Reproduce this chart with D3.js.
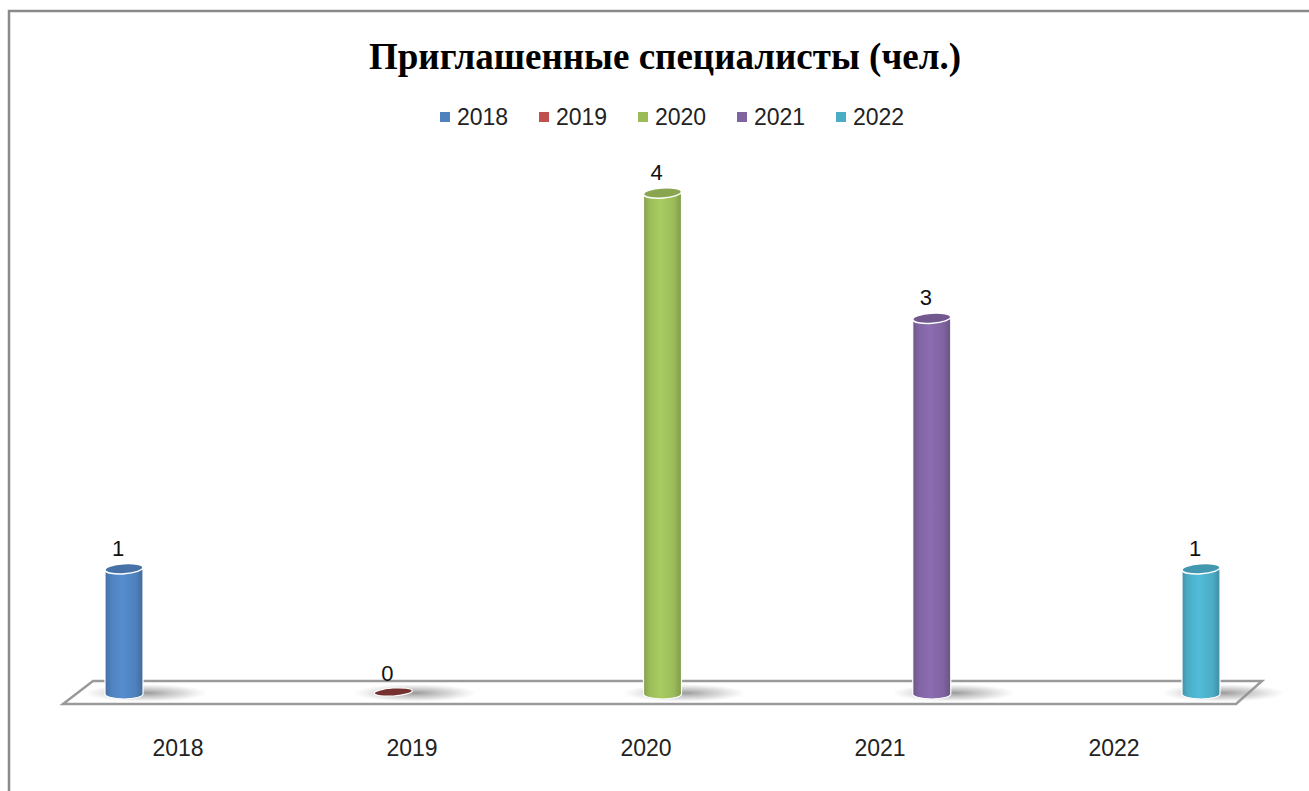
<!DOCTYPE html>
<html><head><meta charset="utf-8">
<script src="https://cdn.jsdelivr.net/npm/d3@7"></script>
<style>body{margin:0;background:#fff}svg{display:block}</style>
</head><body>
<svg id="c" width="1309" height="791"></svg>
<script>
const title = "Приглашенные специалисты (чел.)";
const years = ["2018","2019","2020","2021","2022"];
const values = [1, 0, 4, 3, 1];
const colors = ["#4F81BD","#C0504D","#9BBB59","#8064A2","#4BACC6"];
const legendLabels = ["2018","2019","2020","2021","2022"];

const svg = d3.select("#c");
const defs = svg.append("defs");

// frame
svg.append("path").attr("d","M9,791 V11 H1309").attr("fill","none").attr("stroke","#8a8a8a").attr("stroke-width",2.5);

svg.append("text").attr("x",665).attr("y",69).attr("text-anchor","middle")
  .attr("font-family","Liberation Serif, Times New Roman, serif").attr("font-weight","bold")
  .attr("font-size",37).attr("fill","#000").text(title);

// legend
const lx = d3.scalePoint().domain(legendLabels).range([440, 836]);
const lg = svg.append("g");
legendLabels.forEach((l,i)=>{
  lg.append("rect").attr("x",lx(l)).attr("y",112).attr("width",10).attr("height",10).attr("fill",colors[i]);
  lg.append("text").attr("x",lx(l)+17).attr("y",125).attr("font-family","Liberation Sans, Arial, sans-serif")
    .attr("font-size",23).attr("fill","#222").text(l);
});

// floor
svg.append("path").attr("d","M93,681 L1262,681 L1236,704 L63,704 Z")
  .attr("fill","#fff").attr("stroke","#9a9a9a").attr("stroke-width",2.5).attr("stroke-linejoin","miter");

const x = d3.scalePoint().domain(years).range([124, 1201]);
const xl = d3.scalePoint().domain(years).range([178, 1114]);
const y = d3.scaleLinear().domain([0,4]).range([694, 193]);

// shadow gradient
const sg = defs.append("radialGradient").attr("id","shadow");
sg.append("stop").attr("offset","0%").attr("stop-color","#777").attr("stop-opacity",0.75);
sg.append("stop").attr("offset","60%").attr("stop-color","#999").attr("stop-opacity",0.35);
sg.append("stop").attr("offset","100%").attr("stop-color","#bbb").attr("stop-opacity",0);

function shade(c,k){return d3.color(c).darker(k).formatHex();}
function light(c,k){return d3.color(c).brighter(k).formatHex();}

years.forEach((yr,i)=>{
  const g = defs.append("linearGradient").attr("id","g"+i).attr("x1","0").attr("x2","1").attr("y1","0").attr("y2","0");
  g.append("stop").attr("offset","0%").attr("stop-color",shade(colors[i],0.45));
  g.append("stop").attr("offset","15%").attr("stop-color",colors[i]);
  g.append("stop").attr("offset","45%").attr("stop-color",light(colors[i],0.25));
  g.append("stop").attr("offset","80%").attr("stop-color",colors[i]);
  g.append("stop").attr("offset","100%").attr("stop-color",shade(colors[i],0.55));
});

const r = 19, ry = 5;
const bars = svg.append("g");
years.forEach((yr,i)=>{
  const cx = x(yr), base = y(0), top = y(values[i]);
  bars.append("ellipse").attr("cx",cx+22).attr("cy",base-1).attr("rx",62).attr("ry",9).attr("fill","url(#shadow)");
  if (values[i] > 0) {
    bars.append("path")
      .attr("d",`M${cx-r},${top} L${cx-r},${base} A${r},${ry} 0 0 0 ${cx+r},${base} L${cx+r},${top} Z`)
      .attr("fill","url(#g"+i+")").attr("stroke","#fff").attr("stroke-width",1.2);
    bars.append("ellipse").attr("cx",cx).attr("cy",top).attr("rx",r).attr("ry",ry)
      .attr("transform",`rotate(-4,${cx},${top})`)
      .attr("fill",shade(colors[i],0.35)).attr("stroke","#fff").attr("stroke-width",1.5);
  } else {
    bars.append("ellipse").attr("cx",cx).attr("cy",base-2).attr("rx",r).attr("ry",4)
      .attr("transform",`rotate(-4,${cx},${base-2})`)
      .attr("fill",shade(colors[i],1.4)).attr("stroke","#fff").attr("stroke-width",1.2);
  }
  svg.append("text").attr("x",cx-6).attr("y",(values[i]>0?top:base)-13).attr("text-anchor","middle")
    .attr("font-family","Liberation Sans, Arial, sans-serif").attr("font-size",22).attr("fill","#111").text(values[i]);
});

// category axis labels
years.forEach(yr=>{
  svg.append("text").attr("x",xl(yr)).attr("y",756).attr("text-anchor","middle")
    .attr("font-family","Liberation Sans, Arial, sans-serif").attr("font-size",23).attr("fill","#222").text(yr);
});
</script>
</body></html>
